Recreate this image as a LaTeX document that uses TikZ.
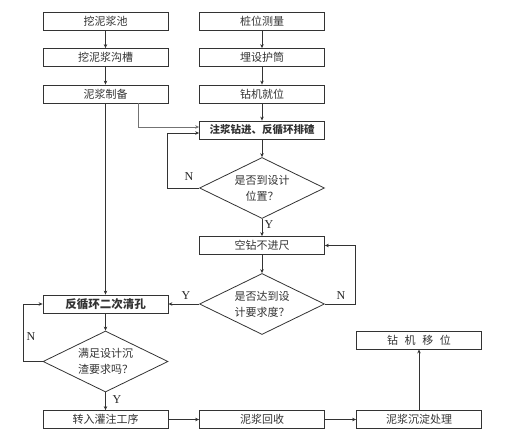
\documentclass[tikz,border=0pt]{standalone}
\usepackage{fontspec}
\setmainfont{Liberation Serif}
\newfontfamily\cjk{Noto Sans CJK SC}
\usetikzlibrary{shapes.geometric,arrows.meta}

\tikzset{
  box/.style={draw=black!80, line width=0.8pt, minimum width=125pt, minimum height=18pt,
    inner sep=0pt, text=black!80, font=\cjk\fontsize{11}{13}\selectfont},
  decide/.style={draw=black!80, line width=0.8pt, diamond, aspect=2, minimum width=125pt,
    minimum height=61pt, inner sep=0pt, align=left, text=black!80,
    font=\cjk\fontsize{11}{16}\selectfont},
  line/.style={draw=black!80, line width=0.8pt, -{Stealth[length=4pt,width=3.5pt]}},
  yn/.style={font=\fontsize{12}{12}\selectfont, text=black!85}
}

\begin{document}
\begin{tikzpicture}[x=1pt,y=-1pt]
    \useasboundingbox (0,0) rectangle (518,438);
    \node[box] (pit)     at (105.5, 21.0) {挖泥浆池};
    \node[box] (trench)  at (105.5, 57.5) {挖泥浆沟槽};
    \node[box] (mud)     at (105.5, 94.0) {泥浆制备};
    \node[box] (survey)  at (262.0, 21.0) {桩位测量};
    \node[box] (casing)  at (262.0, 57.5) {埋设护筒};
    \node[box] (rig)     at (262.0, 94.0) {钻机就位};
    \node[box, font=\cjk\bfseries\fontsize{10.5}{12}\selectfont] (drill) at (262.0,130.0) {注浆钻进、反循环排碴};
    \node[decide, align=center] (q1) at (262.0,188.0) {是否到设计\\位置？};
    \node[box] (idle)    at (262.0,245.5) {空钻不进尺};
    \node[decide] (q2)   at (262.0,304.0) {是否达到设\\计要求度？};
    \node[box, font=\cjk\bfseries\fontsize{11.5}{13}\selectfont] (clean) at (105.5,304.0) {反循环二次清孔};
    \node[decide] (q3)   at (105.5,361.5) {满足设计沉\\渣要求吗？};
    \node[box] (pour)    at (105.5,419.5) {转入灌注工序};
    \node[box] (recover) at (262.0,419.5) {泥浆回收};
    \node[box] (settle)  at (419.0,419.5) {泥浆沉淀处理};
    \node[box] (move)    at (419.0,340.0) {钻\hspace{0.6em}机\hspace{0.6em}移\hspace{0.6em}位};

    \draw[line] (pit) -- (trench);
    \draw[line] (trench) -- (mud);
    \draw[line] (survey) -- (casing);
    \draw[line] (casing) -- (rig);
    \draw[line] (rig) -- (drill);
    \draw[line, draw=black!55, line width=0.6pt] ([xshift=32.5pt]mud.south) |- ([yshift=3pt]drill.west);
    \draw[line] (drill) -- (q1);
    \draw[line] (q1.west) -- ++(-32,0) |- ([yshift=-3pt]drill.west);
    \draw[line] (q1) -- (idle);
    \draw[line] (idle) -- (q2);
    \draw[line] (q2.east) -- ++(30,0) |- (idle.east);
    \draw[line] (q2.west) -- (clean.east);
    \draw[line] (mud) -- (clean);
    \draw[line] (clean) -- (q3);
    \draw[line] (q3.west) -- ++(-19,0) |- (clean.west);
    \draw[line] (q3) -- (pour);
    \draw[line] (pour) -- (recover);
    \draw[line] (recover) -- (settle);
    \draw[line] (settle) -- (move);

    \node[yn] (n1) at (189,177) {N};
    \node[yn] (y1) at (269,225) {Y};
    \node[yn] (n2) at (341,296) {N};
    \node[yn] (y2) at (186,296) {Y};
    \node[yn] (n3) at (31,337) {N};
    \node[yn] (y3) at (117,400) {Y};
  \end{tikzpicture}
\end{document}
